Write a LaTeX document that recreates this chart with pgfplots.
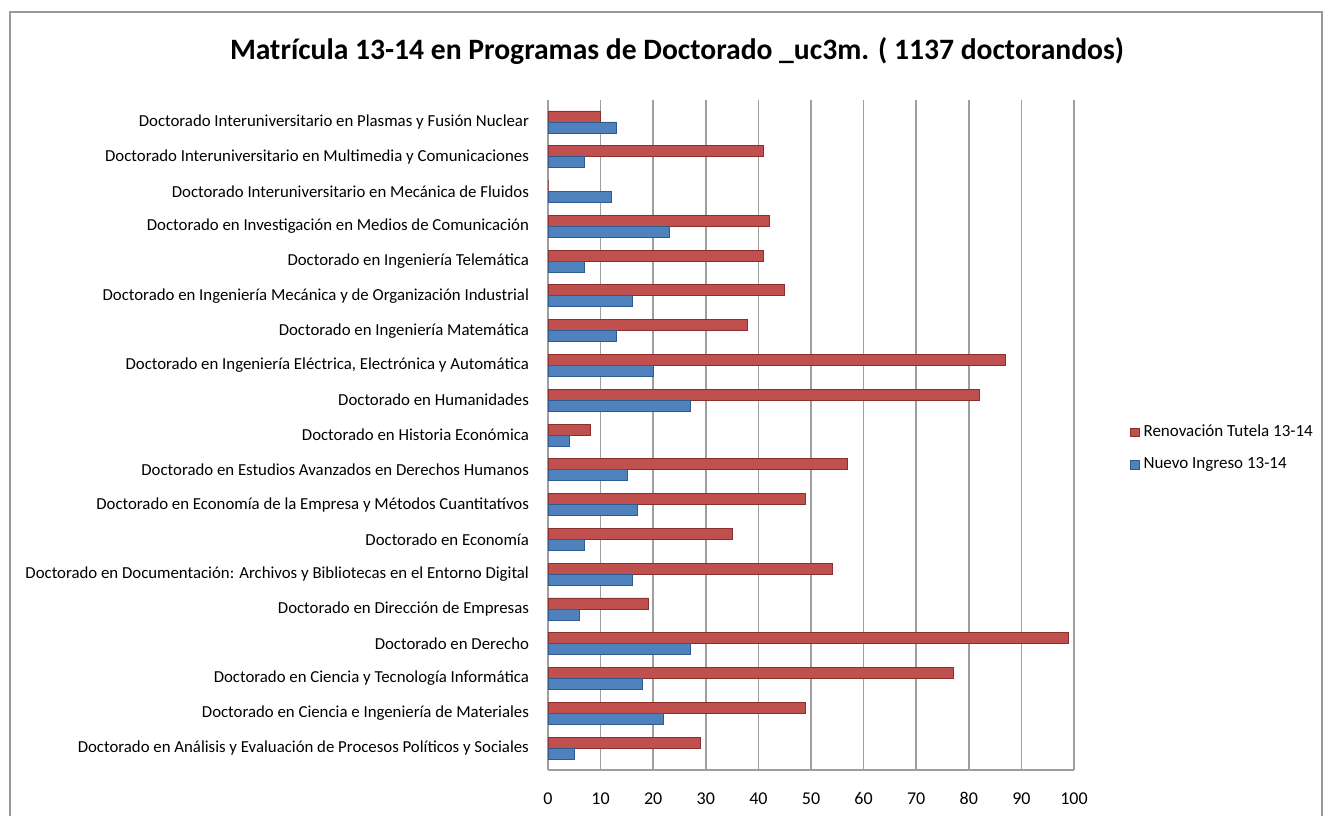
\documentclass[border=0pt]{standalone}
\usepackage{fontspec}
\setmainfont{Carlito}
\usepackage{pgfplots}
\pgfplotsset{compat=1.18}
\definecolor{redbar}{HTML}{C0504D}
\definecolor{bluebar}{HTML}{4F81BD}
\definecolor{rededge}{HTML}{8C2E2B}
\definecolor{blueedge}{HTML}{2E5A8E}
\begin{document}
\begin{tikzpicture}
\useasboundingbox (0,0) rectangle (666pt,407.5pt);
\fill[white] (0,0) rectangle (666pt,407.5pt);
\draw[black!40, line width=1.2pt] (5pt,-5pt) -- (5pt,401.5pt) -- (661pt,401.5pt) -- (661pt,-5pt);
\node[font=\bfseries\fontsize{14.8}{18}\selectfont] at (338.5pt,382pt) {Matrícula 13-14 en Programas de Doctorado \_uc3m. ( 1137 doctorandos)};
\begin{axis}[
  at={(274pt,22.5pt)}, anchor=south west,
  scale only axis, width=263pt, height=335pt,
  xmin=0, xmax=100, ymin=-0.63, ymax=18.63,
  xtick={0,10,...,100}, ytick={0,...,18},
  yticklabels={
    Doctorado en Análisis y Evaluación de Procesos Políticos y Sociales,
    Doctorado en Ciencia e Ingeniería de Materiales,
    Doctorado en Ciencia y Tecnología Informática,
    Doctorado en Derecho,
    Doctorado en Dirección de Empresas,
    Doctorado en Documentación: Archivos y Bibliotecas en el Entorno Digital,
    Doctorado en Economía,
    Doctorado en Economía de la Empresa y Métodos Cuantitatívos,
    Doctorado en Estudios Avanzados en Derechos Humanos,
    Doctorado en Historia Económica,
    Doctorado en Humanidades,
    {Doctorado en Ingeniería Eléctrica, Electrónica y Automática},
    Doctorado en Ingeniería Matemática,
    Doctorado en Ingeniería Mecánica y de Organización Industrial,
    Doctorado en Ingeniería Telemática,
    Doctorado en Investigación en Medios de Comunicación,
    Doctorado Interuniversitario en Mecánica de Fluidos,
    Doctorado Interuniversitario en Multimedia y Comunicaciones,
    Doctorado Interuniversitario en Plasmas y Fusión Nuclear},
  /pgf/number format/assume math mode=true,
  yticklabel style={font=\fontsize{8.4}{9}\selectfont, black, xshift=-6pt},
  xticklabel style={font=\fontsize{9}{10}\selectfont, black, yshift=-6pt,
    text height=1.6ex, text depth=0pt},
  major tick length=0pt,
  xmajorgrids, grid style={black!38, line width=0.8pt},
  axis line style={black!38, line width=0.8pt},
  axis x line*=bottom, axis y line*=left,
  xbar, bar width=5.5pt,
  legend style={at={(1.095,0.48)}, anchor=west, draw=none, fill=none,
    font=\fontsize{8.5}{9}\selectfont, row sep=5pt,
    legend cell align=left},
  legend image code/.code={\fill[#1] (0pt,-2.2pt) rectangle (4.2pt,2.2pt);},
]
\addplot[fill=redbar, draw=rededge, line width=0.4pt, bar shift=2.75pt] coordinates {
 (29,0) (49,1) (77,2) (99,3) (19,4) (54,5) (35,6) (49,7) (57,8) (8,9)
 (82,10) (87,11) (38,12) (45,13) (41,14) (42,15) (0,16) (41,17) (10,18)};
\addplot[fill=bluebar, draw=blueedge, line width=0.4pt, bar shift=-2.75pt] coordinates {
 (5,0) (22,1) (18,2) (27,3) (6,4) (16,5) (7,6) (17,7) (15,8) (4,9)
 (27,10) (20,11) (13,12) (16,13) (7,14) (23,15) (12,16) (7,17) (13,18)};
\legend{Renovación Tutela 13-14, Nuevo Ingreso 13-14}
\end{axis}
\end{tikzpicture}
\end{document}
